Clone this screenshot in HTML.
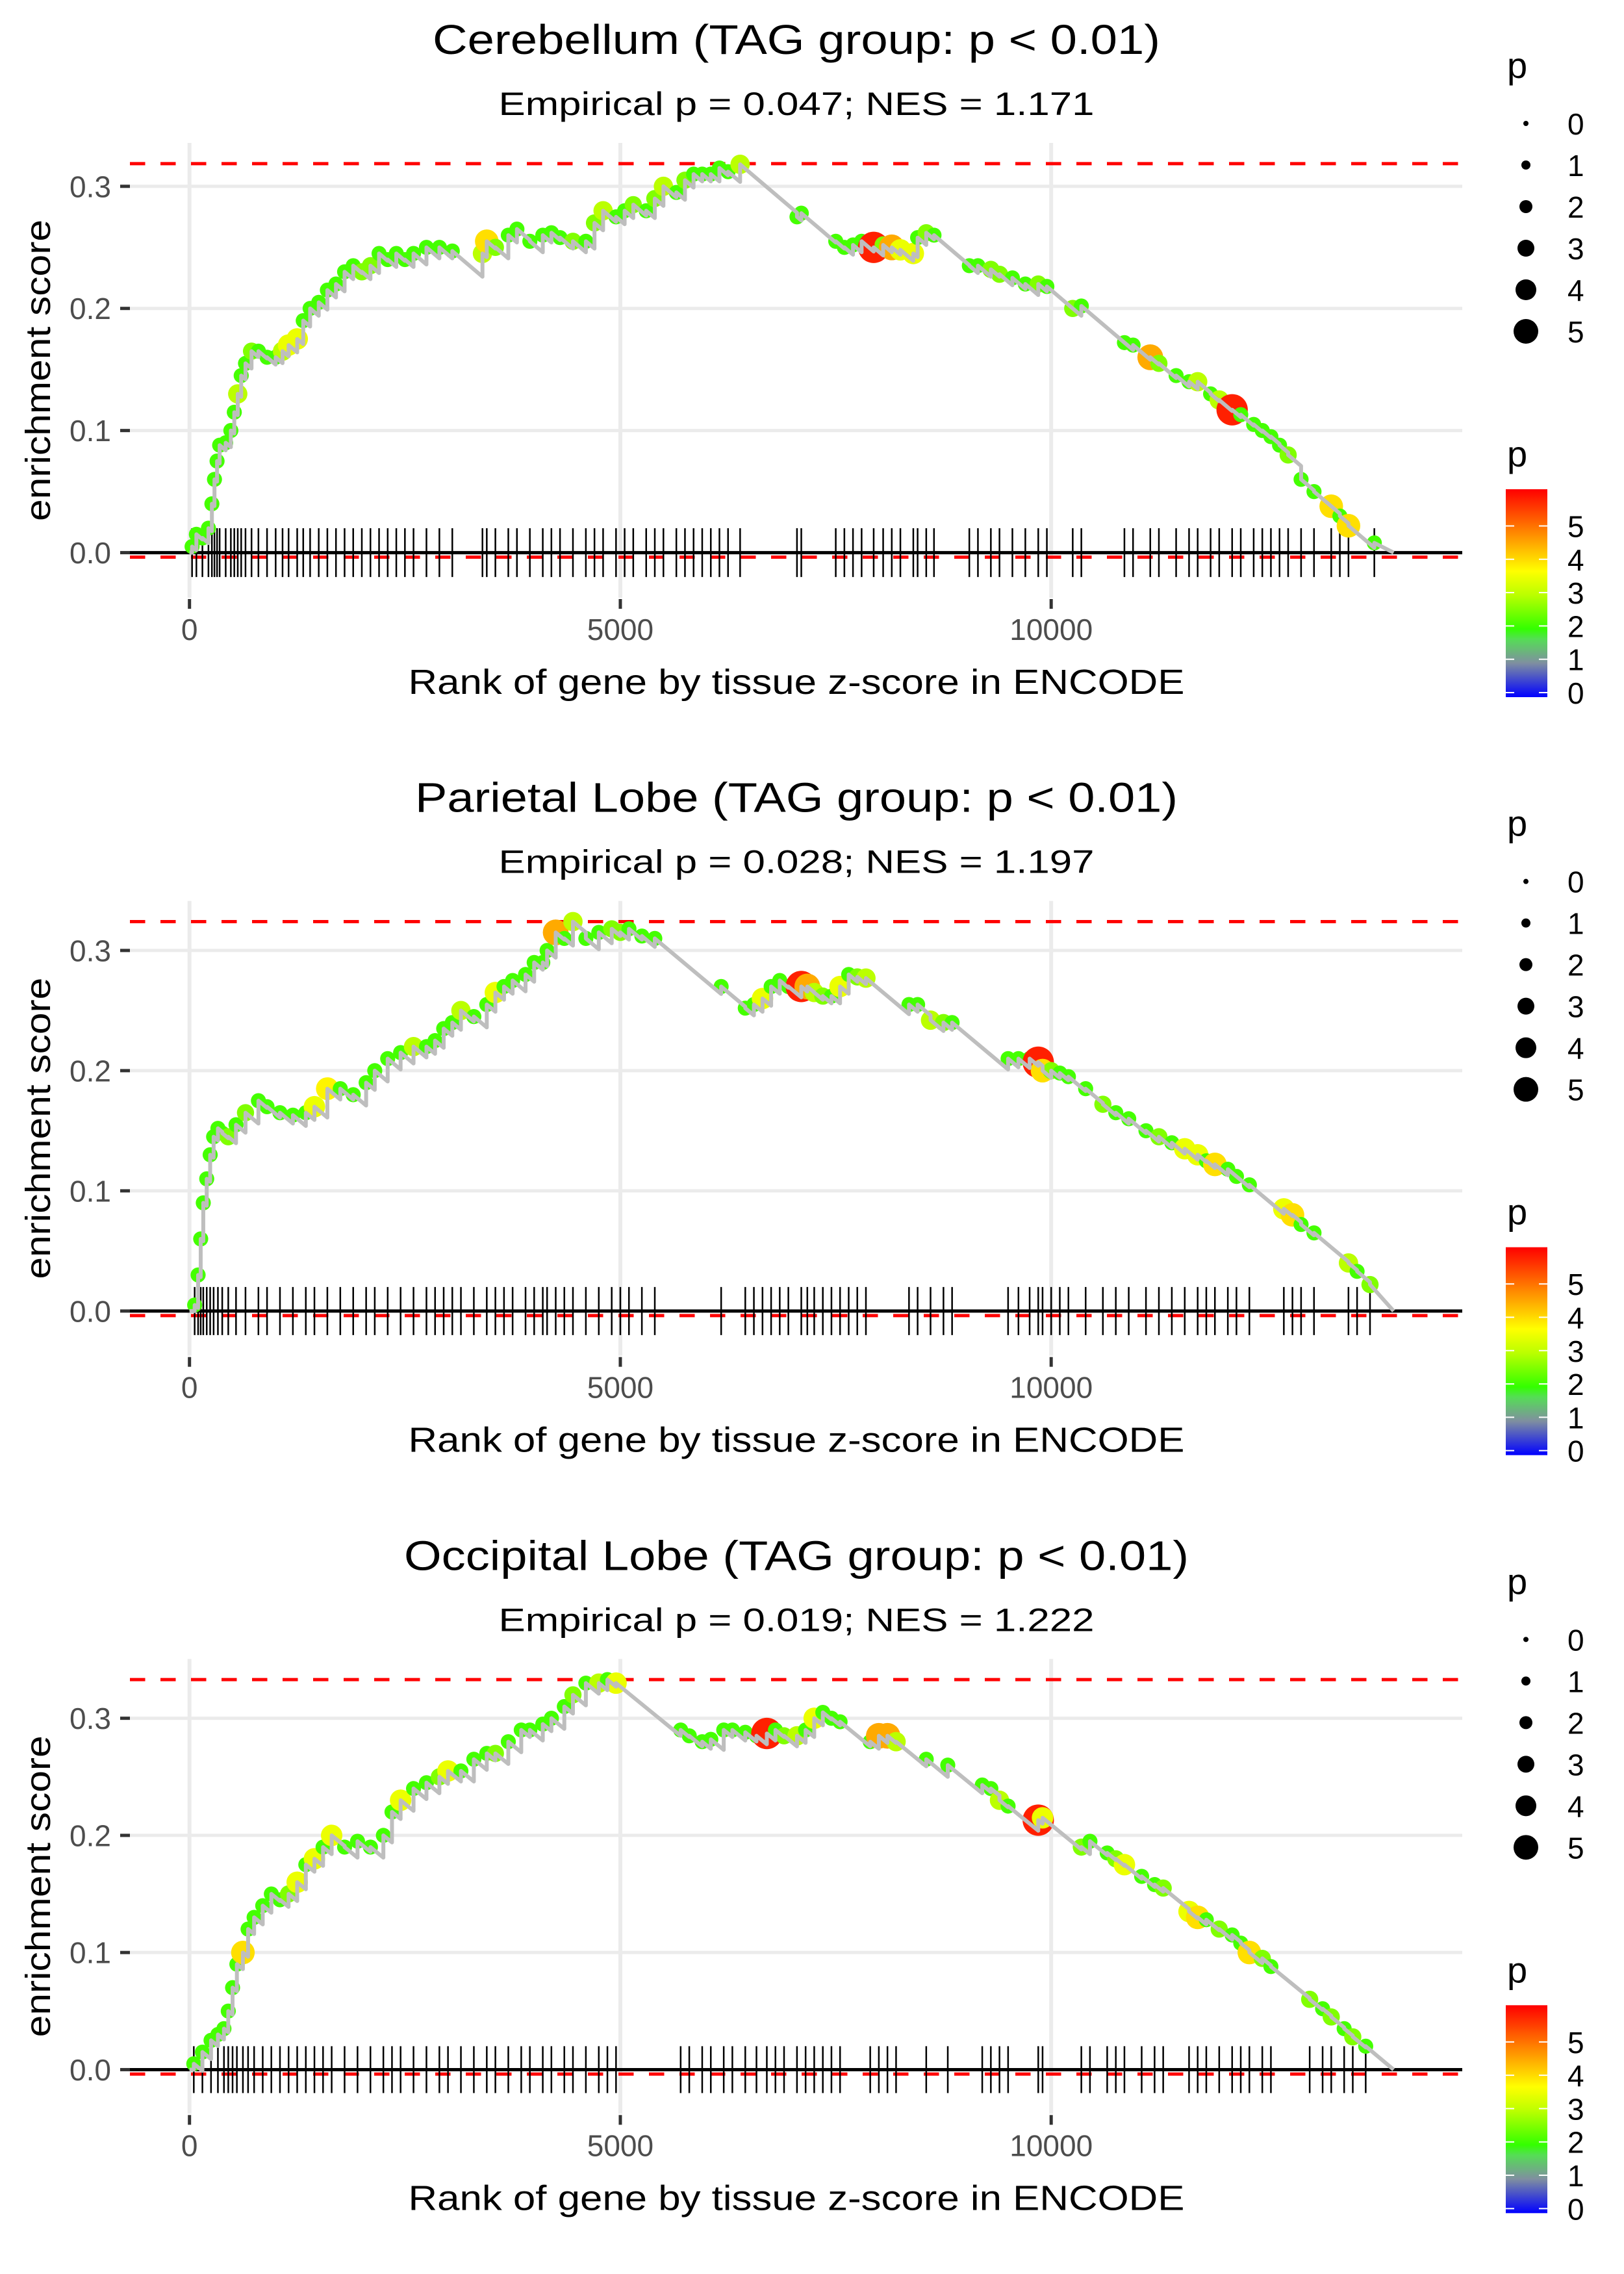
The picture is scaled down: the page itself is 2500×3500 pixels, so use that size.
<!DOCTYPE html>
<html><head><meta charset="utf-8">
<style>
html,body{margin:0;padding:0;background:#fff;}
svg{display:block;font-family:"Liberation Sans",Arial,sans-serif;}
</style></head>
<body>
<svg id="fig" xmlns="http://www.w3.org/2000/svg" width="2500" height="3500" viewBox="0 0 2500 3500">
<defs>
<linearGradient id="pgrad" x1="0" y1="1" x2="0" y2="0">
<stop offset="0" stop-color="#0000ff"/>
<stop offset="0.164" stop-color="#7f8fa0"/>
<stop offset="0.279" stop-color="#55dd55"/>
<stop offset="0.328" stop-color="#33ff00"/>
<stop offset="0.492" stop-color="#bbff00"/>
<stop offset="0.607" stop-color="#ffff00"/>
<stop offset="0.738" stop-color="#ffaa00"/>
<stop offset="1" stop-color="#ff0000"/>
</linearGradient>
</defs>

<g transform="translate(0,0)">
<text x="1226" y="83" font-size="64" text-anchor="middle" textLength="1120" lengthAdjust="spacingAndGlyphs">Cerebellum (TAG group: p &lt; 0.01)</text>
<text x="1226" y="177" font-size="50" text-anchor="middle" textLength="917" lengthAdjust="spacingAndGlyphs">Empirical p = 0.047; NES = 1.171</text>
<g id="plot0"></g>
<text x="1226" y="1068" font-size="54" text-anchor="middle" textLength="1195" lengthAdjust="spacingAndGlyphs">Rank of gene by tissue z-score in ENCODE</text>
<text transform="translate(77,570) rotate(-90)" font-size="54" text-anchor="middle" textLength="464" lengthAdjust="spacingAndGlyphs">enrichment score</text>
<g id="leg0"></g>
</g>

<g transform="translate(0,1166.67)">
<text x="1226" y="83" font-size="64" text-anchor="middle" textLength="1174" lengthAdjust="spacingAndGlyphs">Parietal Lobe (TAG group: p &lt; 0.01)</text>
<text x="1226" y="177" font-size="50" text-anchor="middle" textLength="917" lengthAdjust="spacingAndGlyphs">Empirical p = 0.028; NES = 1.197</text>
<g id="plot1"></g>
<text x="1226" y="1068" font-size="54" text-anchor="middle" textLength="1195" lengthAdjust="spacingAndGlyphs">Rank of gene by tissue z-score in ENCODE</text>
<text transform="translate(77,570) rotate(-90)" font-size="54" text-anchor="middle" textLength="464" lengthAdjust="spacingAndGlyphs">enrichment score</text>
<g id="leg1"></g>
</g>

<g transform="translate(0,2333.33)">
<text x="1226" y="83" font-size="64" text-anchor="middle" textLength="1208" lengthAdjust="spacingAndGlyphs">Occipital Lobe (TAG group: p &lt; 0.01)</text>
<text x="1226" y="177" font-size="50" text-anchor="middle" textLength="917" lengthAdjust="spacingAndGlyphs">Empirical p = 0.019; NES = 1.222</text>
<g id="plot2"></g>
<text x="1226" y="1068" font-size="54" text-anchor="middle" textLength="1195" lengthAdjust="spacingAndGlyphs">Rank of gene by tissue z-score in ENCODE</text>
<text transform="translate(77,570) rotate(-90)" font-size="54" text-anchor="middle" textLength="464" lengthAdjust="spacingAndGlyphs">enrichment score</text>
<g id="leg2"></g>
</g>
</svg>

<script>
const yTickValues = [0, 0.1, 0.2, 0.3];
const yTickLabels = ["0.0", "0.1", "0.2", "0.3"];
const xTickValues = [0, 5000, 10000];
const xTickLabels = ["0", "5000", "10000"];
const sizeLegendValues = [0, 1, 2, 3, 4, 5];
const colorLegendValues = [0, 1, 2, 3, 4, 5];
const nGenes = [13974, 13974, 13974];
const esPeak = [0.3186, 0.324, 0.333];
const esLow = [-0.0037, -0.0038, -0.0038];
const stepDrop = [0.00006, 0.00006, 0.00006];

const cbRanks = [30,80,150,220,260,290,320,350,420,480,520,560,600,650,720,800,900,1000,1080,1150,1250,1320,1400,1500,1600,1700,1800,1900,2000,2100,2200,2300,2400,2500,2600,2750,2900,3050,3400,3450,3550,3700,3800,3950,4100,4200,4300,4450,4600,4700,4800,4950,5050,5150,5300,5400,5500,5650,5750,5850,5950,6050,6150,6250,6390,7050,7100,7500,7600,7700,7800,7940,8050,8150,8250,8400,8450,8550,8640,9050,9150,9300,9400,9550,9700,9850,9950,10250,10350,10850,10950,11150,11250,11450,11600,11700,11850,11950,12100,12200,12350,12450,12550,12650,12750,12900,13050,13250,13350,13450,13750];
const cbES = [0.005,0.015,0.012,0.02,0.04,0.06,0.075,0.088,0.09,0.1,0.115,0.13,0.145,0.155,0.165,0.165,0.16,0.16,0.165,0.17,0.175,0.19,0.2,0.205,0.215,0.22,0.23,0.235,0.23,0.235,0.245,0.24,0.245,0.24,0.245,0.25,0.25,0.247,0.245,0.255,0.25,0.26,0.265,0.255,0.26,0.262,0.258,0.255,0.255,0.27,0.28,0.275,0.28,0.285,0.28,0.29,0.3,0.295,0.305,0.31,0.31,0.31,0.315,0.312,0.318,0.275,0.278,0.255,0.25,0.252,0.255,0.25,0.252,0.25,0.248,0.245,0.258,0.262,0.26,0.235,0.235,0.232,0.228,0.225,0.22,0.22,0.218,0.2,0.202,0.172,0.17,0.16,0.155,0.145,0.14,0.14,0.13,0.125,0.117,0.113,0.105,0.1,0.095,0.088,0.08,0.06,0.05,0.038,0.03,0.022,0.008];
const cbP = [2,2,2,2,2,2,2,2,2,2,2,3,2,2,2.5,2,2,2,3,3.5,3.5,2,2,2,2,2,2,2,2.5,2.5,2,2,2,2,2,2,2,2,3,4,2.5,2,2,2,2,2,2,2.5,2,2.5,3,2,2,2.5,2,2.5,3,2,2.5,2,2,2,2,2,3,2,2,2,2,2,2,5.8,2.5,4.5,3.5,3.5,2,2.5,2,2,2,2.5,2.5,2,2,2.5,2,2.5,2,2,2,4.5,2.5,2,2,3,2,3,5.8,2,2,2,2,2,2.5,2,2,4,2,4,2];

const plRanks = [60,100,130,160,200,240,280,330,380,450,540,650,800,900,1050,1200,1350,1450,1600,1750,1900,2050,2150,2300,2450,2600,2750,2850,2950,3050,3150,3300,3450,3550,3650,3750,3900,4000,4100,4150,4250,4350,4450,4600,4750,4900,5000,5100,5250,5400,6170,6450,6550,6650,6750,6850,6950,7100,7170,7250,7350,7450,7550,7650,7750,7850,8350,8450,8600,8750,8850,9500,9620,9750,9850,9900,10000,10100,10200,10400,10600,10750,10900,11100,11250,11400,11550,11700,11800,11900,12050,12150,12300,12700,12800,12900,13050,13450,13550,13700];
const plES = [0.005,0.03,0.06,0.09,0.11,0.13,0.145,0.152,0.148,0.145,0.155,0.165,0.175,0.17,0.165,0.163,0.165,0.17,0.185,0.185,0.18,0.19,0.2,0.21,0.215,0.22,0.22,0.225,0.235,0.24,0.25,0.245,0.255,0.265,0.27,0.275,0.28,0.29,0.29,0.3,0.315,0.31,0.324,0.31,0.315,0.318,0.315,0.318,0.312,0.31,0.27,0.252,0.255,0.26,0.27,0.275,0.27,0.27,0.27,0.265,0.262,0.262,0.27,0.28,0.278,0.277,0.255,0.255,0.242,0.24,0.24,0.21,0.21,0.21,0.207,0.2,0.2,0.198,0.195,0.185,0.172,0.165,0.16,0.15,0.145,0.14,0.135,0.13,0.125,0.122,0.118,0.112,0.105,0.085,0.08,0.072,0.065,0.04,0.033,0.022];
const plP = [2,2,2,2,2,2,2,2,2,2.5,2,2.5,2,2,2,2,2,3.5,3.8,2,2,2,2,2,2,3,2,2,2,2,3,2,2,3.5,2,2,2,2,2,2,4.5,2,3,2,2,2.5,2.5,2,2,2,2,2,2,3.5,2,2,2,5.8,4.5,3,2.5,2,3.5,2,2.5,3,2,2,3,2.5,2,2,2,2,5.8,4,2.5,2,2,2,2.5,2,2,2,2.5,2,3.5,3.5,2,4,2,2,2,3.5,4,2,2,3,2,2.5];

const ocRanks = [50,150,250,330,400,450,500,550,620,680,750,850,950,1050,1150,1250,1350,1450,1550,1650,1800,1950,2100,2250,2350,2450,2600,2750,2900,3000,3150,3300,3450,3550,3700,3850,3950,4100,4200,4350,4450,4600,4750,4850,4950,5700,5800,5950,6050,6200,6300,6450,6580,6700,6800,6900,7050,7150,7250,7350,7450,7550,7900,8000,8100,8200,8550,8800,9200,9300,9400,9500,9850,9900,10350,10450,10650,10750,10850,11050,11200,11300,11600,11700,11800,11950,12100,12200,12300,12450,12550,13000,13150,13250,13400,13500,13650];
const ocES = [0.005,0.015,0.025,0.03,0.035,0.05,0.07,0.09,0.1,0.12,0.13,0.14,0.15,0.145,0.15,0.16,0.175,0.18,0.19,0.2,0.19,0.195,0.19,0.2,0.22,0.23,0.24,0.245,0.25,0.255,0.255,0.265,0.27,0.27,0.28,0.29,0.29,0.295,0.3,0.31,0.32,0.33,0.33,0.333,0.33,0.29,0.285,0.28,0.282,0.29,0.29,0.288,0.285,0.287,0.29,0.285,0.285,0.29,0.3,0.305,0.3,0.297,0.28,0.285,0.285,0.28,0.265,0.26,0.243,0.24,0.23,0.225,0.213,0.215,0.19,0.195,0.185,0.18,0.175,0.165,0.158,0.155,0.135,0.13,0.128,0.12,0.115,0.108,0.1,0.095,0.088,0.06,0.052,0.045,0.035,0.028,0.02];
const ocP = [2,2,2,2,2,2,2,2,4,2,2,2,2,2,2.5,3.5,2,3.5,2,3.5,2,2,2,2,2,3.5,2,2,2.5,3.5,2,2,2,2.5,2,2,2,2,2,2,2.5,2,3,2,3.5,2,2,2,2,2,2,2,2,5.8,2,2.5,3,2,3.5,2,2,2,2,4.5,4.5,3,2,2,2,2,3,2,5.8,3.5,2.5,2,2,2.5,3.5,2,2,2.5,3.5,4,2,2.5,2,2,4,2.5,2,2.5,2,2.5,2,2.5,2];

const panelRanks = [cbRanks, plRanks, ocRanks];
const panelES = [cbES, plES, ocES];
const panelP = [cbP, plP, ocP];

const NS = "http://www.w3.org/2000/svg";
const PX0 = 200, PX1 = 2251, PY0 = 220, PY1 = 920;
function mk(tag, attrs, parent) {
  const e = document.createElementNS(NS, tag);
  for (const k in attrs) e.setAttribute(k, attrs[k]);
  parent.appendChild(e);
  return e;
}
function xScale(r) { return 291.7 + r * 0.13265; }
function makeY(peak) {
  const lo = -0.02;
  const span = (peak - lo) * 1.1;
  const top = peak + 0.05 * (peak - lo);
  const k = (PY1 - PY0) / span;
  return v => PY0 + (top - v) * k;
}
const cStops = [[0,[0,0,255]],[1,[127,143,160]],[1.7,[85,221,85]],[2,[68,255,0]],[3,[187,255,0]],[3.7,[255,255,0]],[4.5,[255,170,0]],[6.1,[255,0,0]]];
function pColor(p) {
  if (p <= cStops[0][0]) return "rgb(0,0,255)";
  for (let i = 1; i < cStops.length; i++) {
    if (p <= cStops[i][0]) {
      const a = cStops[i-1], b = cStops[i];
      const t = (p - a[0]) / (b[0] - a[0]);
      const c = a[1].map((v, j) => Math.round(v + (b[1][j] - v) * t));
      return "rgb(" + c.join(",") + ")";
    }
  }
  return "rgb(255,0,0)";
}
function pRadius(p) { return 4 + 3 * p; }
function markRadius(p) { return 5 + 3.3 * p; }

for (let k = 0; k < 3; k++) {
  const g = document.getElementById("plot" + k);
  const y = makeY(esPeak[k]);
  const ranks = panelRanks[k], es = panelES[k], pv = panelP[k];

  yTickValues.forEach((v, i) => {
    const gl = mk("line", {x1: PX0, x2: PX1, y1: y(v), y2: y(v), stroke: "#ebebeb", "stroke-width": 5}, g);
    
    
  });
  xTickValues.forEach((v, i) => {
    const gl = mk("line", {x1: xScale(v), x2: xScale(v), y1: PY0, y2: PY1, stroke: "#ebebeb", "stroke-width": 6}, g);
    
    
  });
  yTickValues.forEach((v, i) => {
    const tm = mk("line", {x1: 185, x2: 200, y1: y(v), y2: y(v), stroke: "#333333", "stroke-width": 5}, g);
    
    
    const t = mk("text", {x: 171, y: y(v) + 16.5, "font-size": 46, fill: "#4d4d4d", "text-anchor": "end"}, g);
    t.textContent = yTickLabels[i];
    
    
  });
  xTickValues.forEach((v, i) => {
    const tm = mk("line", {x1: xScale(v), x2: xScale(v), y1: 922, y2: 937, stroke: "#333333", "stroke-width": 5}, g);
    
    
    const t = mk("text", {x: xScale(v), y: 985, "font-size": 46, fill: "#4d4d4d", "text-anchor": "middle"}, g);
    t.textContent = xTickLabels[i];
    
    
  });
  const zl = mk("line", {x1: PX0, x2: PX1, y1: y(0), y2: y(0), stroke: "#000", "stroke-width": 5}, g);
  
  
  const d1 = mk("line", {x1: PX0, x2: PX1, y1: y(esPeak[k]), y2: y(esPeak[k]), stroke: "#ff0000", "stroke-width": 5, "stroke-dasharray": "23.5 23.5"}, g);
  
  
  const d2 = mk("line", {x1: PX0, x2: PX1, y1: y(esLow[k]), y2: y(esLow[k]), stroke: "#ff0000", "stroke-width": 5, "stroke-dasharray": "23.5 23.5"}, g);
  
  
  const rug = mk("g", {}, g);
  
  
  ranks.forEach(r => {
    const t = mk("line", {x1: xScale(r), x2: xScale(r), y1: y(0.02), y2: y(-0.02), stroke: "#000", "stroke-width": 2.5}, rug);
    
    
  });
  const pts = mk("g", {}, g);
  
  
  ranks.forEach((r, i) => {
    const c = mk("circle", {cx: xScale(r), cy: y(es[i]), r: markRadius(pv[i]), fill: pColor(pv[i])}, pts);
    
    
  });
  let d = "M" + xScale(0) + "," + y(0) + " L" + xScale(ranks[0]) + "," + y(0) + " L" + xScale(ranks[0]) + "," + y(es[0]);
  for (let i = 1; i < ranks.length; i++) {
    const dropV = es[i-1] - stepDrop[k] * (ranks[i] - ranks[i-1]);
    d += " L" + xScale(ranks[i]) + "," + y(dropV) + " L" + xScale(ranks[i]) + "," + y(es[i]);
  }
  d += " L" + xScale(nGenes[k]) + "," + y(0);
  const ln = mk("path", {d: d, fill: "none", stroke: "#bebebe", "stroke-width": 6, "stroke-linejoin": "round"}, g);
  
  

  const L = document.getElementById("leg" + k);
  const st = mk("text", {x: 2320, y: 120, "font-size": 56}, L);
  st.textContent = "p";
  
  
  sizeLegendValues.forEach((v, i) => {
    const cy = 190 + i * 64;
    const c = mk("circle", {cx: 2349, cy: cy, r: pRadius(v), fill: "#000"}, L);
    
    
    const t = mk("text", {x: 2413, y: cy + 17, "font-size": 46}, L);
    t.textContent = String(v);
    
    
  });
  const ct = mk("text", {x: 2320, y: 718, "font-size": 56}, L);
  ct.textContent = "p";
  
  
  const bar = mk("rect", {x: 2318, y: 753, width: 64, height: 320, fill: "url(#pgrad)"}, L);
  
  
  colorLegendValues.forEach((v, i) => {
    const cy = 1066 - 51.3 * v;
    const t1 = mk("line", {x1: 2318, x2: 2331, y1: cy, y2: cy, stroke: "#fff", "stroke-width": 2}, L);
    
    
    const t2 = mk("line", {x1: 2369, x2: 2382, y1: cy, y2: cy, stroke: "#fff", "stroke-width": 2}, L);
    
    
    const t = mk("text", {x: 2413, y: cy + 17, "font-size": 46}, L);
    t.textContent = String(v);
    
    
  });
}
</script>
</body></html>
